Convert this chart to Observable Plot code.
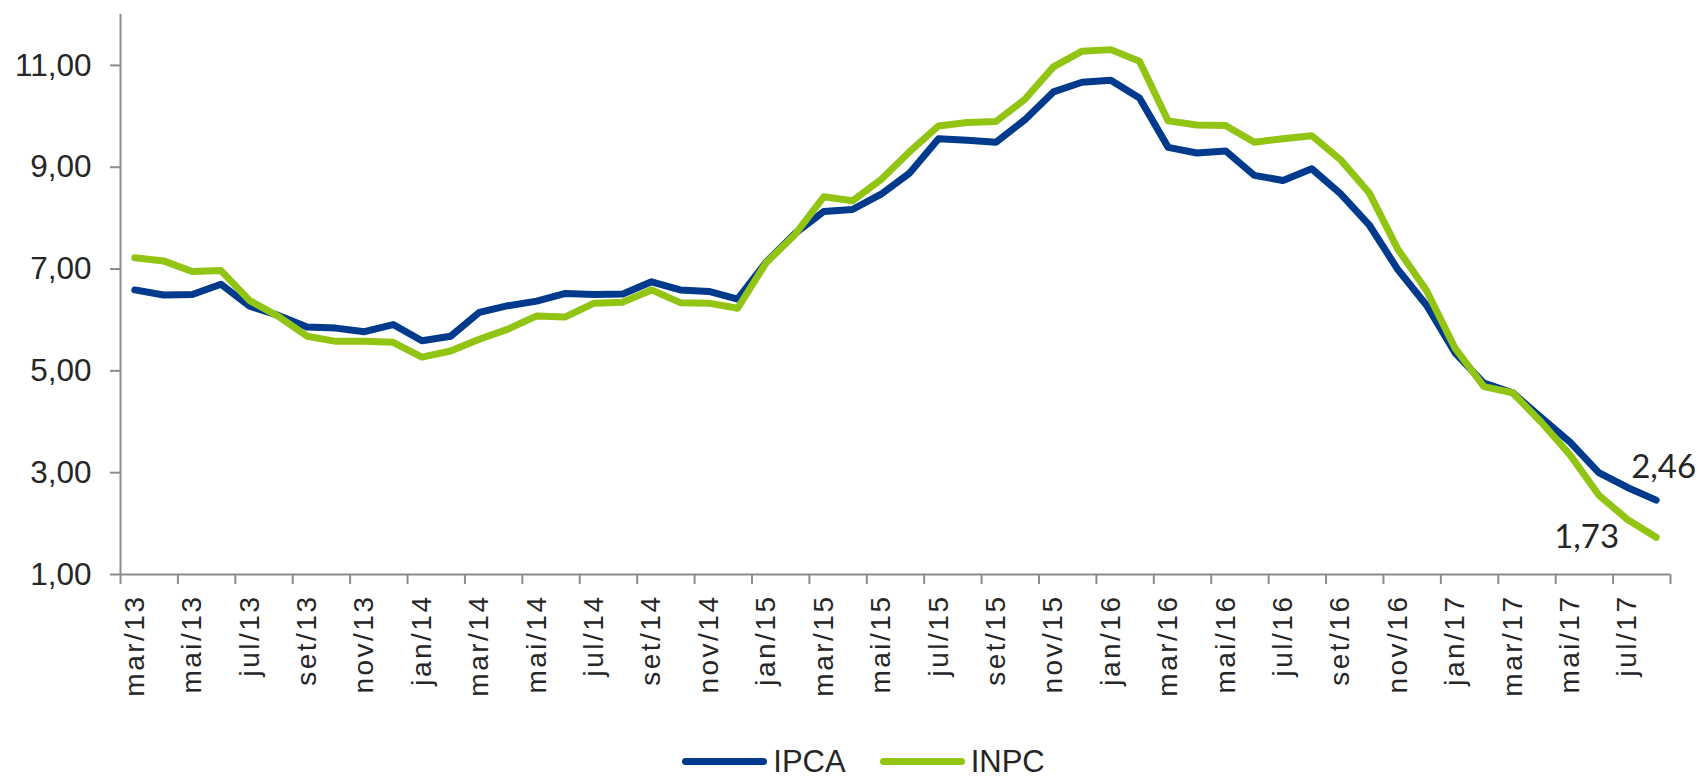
<!DOCTYPE html>
<html>
<head>
<meta charset="utf-8">
<script src="https://cdn.jsdelivr.net/npm/d3@7"></script>
<script src="https://cdn.jsdelivr.net/npm/@observablehq/plot@0.6"></script>
<style>
  body { margin: 0; background: #fff; font-family: "Liberation Sans", Arial, sans-serif; overflow: hidden; }
  #legend { display: flex; justify-content: center; align-items: center; height: 35px; padding-top: 4px; padding-left: 20px; font-size: 31px; line-height: 1; color: #262626; }
  .item { display: flex; align-items: center; margin: 0 17px; }
  .sw { width: 85px; height: 7px; border-radius: 4px; margin-right: 6px; }
</style>
</head>
<body>
<div id="chart"></div>
<div id="legend"></div>
<script>
// IPCA – 12-month accumulated (%), mar/13 … aug/17
const ipca = [
  6.59, 6.49, 6.50, 6.70, 6.27, 6.09, 5.86, 5.84, 5.77, 5.91,
  5.59, 5.68, 6.15, 6.28, 6.37, 6.52, 6.50, 6.51, 6.75, 6.59, 6.56, 6.41,
  7.14, 7.70, 8.13, 8.17, 8.47, 8.89, 9.56, 9.53, 9.49, 9.93, 10.48, 10.67,
  10.71, 10.36, 9.39, 9.28, 9.32, 8.84, 8.74, 8.97, 8.48, 7.87, 6.99, 6.29,
  5.35, 4.76, 4.57, 4.08, 3.60, 3.00, 2.71, 2.46
];
// INPC – 12-month accumulated (%), mar/13 … aug/17
const inpc = [
  7.22, 7.16, 6.95, 6.97, 6.38, 6.07, 5.68, 5.58, 5.58, 5.56,
  5.27, 5.39, 5.62, 5.82, 6.08, 6.06, 6.33, 6.35, 6.59, 6.34, 6.33, 6.23,
  7.13, 7.68, 8.42, 8.34, 8.76, 9.31, 9.81, 9.88, 9.90, 10.33, 10.97, 11.28,
  11.31, 11.08, 9.91, 9.83, 9.82, 9.49, 9.56, 9.62, 9.15, 8.50, 7.39, 6.58,
  5.44, 4.69, 4.57, 3.99, 3.35, 2.56, 2.08, 1.73
];
const tickLabels = [
  "mar/13","mai/13","jul/13","set/13","nov/13",
  "jan/14","mar/14","mai/14","jul/14","set/14","nov/14",
  "jan/15","mar/15","mai/15","jul/15","set/15","nov/15",
  "jan/16","mar/16","mai/16","jul/16","set/16","nov/16",
  "jan/17","mar/17","mai/17","jul/17"
];
const seriesNames = ["IPCA", "INPC"];
const seriesColors = ["#003a8c", "#92c414"];
const yTicks = [1, 3, 5, 7, 9, 11];
const yDomain = [1, 12];

const data = [
  ...ipca.map((v, i) => ({ i, v, s: "IPCA" })),
  ...inpc.map((v, i) => ({ i, v, s: "INPC" }))
];
const n = ipca.length;
const boundaryTicks = d3.range(-0.5, n + 0.5, 2);
const labelTicks = tickLabels.map((_, k) => 2 * k);
const fmt = d => d.toFixed(2).replace(".", ",");
const axisGray = "#8c8c8c";
const textColor = "#262626";

const chart = Plot.plot({
  width: 1707,
  height: 740,
  marginLeft: 120,
  marginRight: 37,
  marginTop: 14,
  marginBottom: 166,
  style: { fontFamily: '"Liberation Sans", Arial, sans-serif', background: "white", color: textColor, overflow: "visible" },
  x: { domain: [-0.5, n - 0.5] },
  y: { domain: yDomain },
  color: { domain: seriesNames, range: seriesColors },
  marks: [
    Plot.axisY({ ticks: yTicks, tickSize: 10, tickPadding: 19, tickFormat: fmt, fontSize: 31.5, stroke: axisGray, strokeWidth: 2, fill: textColor, label: null }),
    Plot.axisX({ ticks: boundaryTicks, tickSize: 10, tickFormat: () => "", stroke: axisGray, strokeWidth: 2, label: null }),
    Plot.axisX({ ticks: labelTicks, tickSize: 0, tickPadding: 20, tickRotate: -90, tickFormat: i => tickLabels[i / 2], fontSize: 28, fill: textColor, label: null }),
    Plot.ruleY([yDomain[0]], { stroke: axisGray, strokeWidth: 2 }),
    Plot.ruleX([-0.5], { stroke: axisGray, strokeWidth: 2 }),
    Plot.line(data, { x: "i", y: "v", stroke: "s", strokeWidth: 7, strokeLinejoin: "round", strokeLinecap: "round" }),
    Plot.text([{ i: n - 1, v: ipca[n - 1] }], { x: "i", y: "v", text: d => fmt(d.v), textAnchor: "start", dx: -25, dy: -33, fontSize: 33, fontFamily: "Lato", fill: textColor }),
    Plot.text([{ i: n - 1, v: inpc[n - 1] }], { x: "i", y: "v", text: d => fmt(d.v), textAnchor: "end", dx: -37, dy: 0, fontSize: 33, fontFamily: "Lato", fill: textColor })
  ]
});
d3.select(chart).selectAll('g[aria-label="x-axis tick label"] text').attr("letter-spacing", 2.5);
document.getElementById("chart").appendChild(chart);

const legend = document.getElementById("legend");
seriesNames.forEach((name, k) => {
  const it = document.createElement("div");
  it.className = "item";
  const sw = document.createElement("div");
  sw.className = "sw";
  sw.style.background = seriesColors[k];
  const t = document.createElement("span");
  t.textContent = name;
  it.appendChild(sw);
  it.appendChild(t);
  legend.appendChild(it);
});
</script>
</body>
</html>
